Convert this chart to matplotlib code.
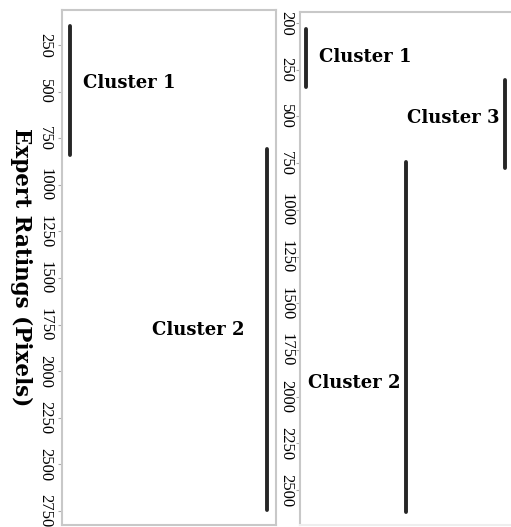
import matplotlib
matplotlib.use('Agg')
import matplotlib.pyplot as plt

#------------------------------------------------------------------------------
# Datos (rangos de cada cluster, en pixeles)
left_clusters = ['Cluster 1', 'Cluster 2']
left_start = [150, 810]
left_end = [840, 2745]
left_ticks = [250, 500, 750, 1000, 1250, 1500, 1750, 2000, 2250, 2500, 2750]
left_labels = ['250', '500', '750', '1000', '1250', '1500', '1750', '2000', '2250', '2500', '2750']

right_clusters = ['Cluster 1', 'Cluster 2', 'Cluster 3']
right_start = [30, 745, 305]
right_end = [340, 2615, 775]
right_ticks = [0, 250, 500, 750, 1000, 1250, 1500, 1750, 2000, 2250, 2500]
right_labels = ['200', '250', '500', '750', '1000', '1250', '1500', '1750', '2000', '2250', '2500']

serif = 'Liberation Serif'
bold_serif = 'DejaVu Serif'
line_color = '#262626'
spine_color = '#c8c8c8'

fig = plt.figure(figsize=(5.11, 5.27), dpi=100)
ax1 = fig.add_axes([62/511, 2/527, 214/511, 515/527])
ax2 = fig.add_axes([300/511, 2/527, 213/511, 513/527])

#------------------------------------------------------------------------------
# Panel izquierdo
for i, name in enumerate(left_clusters):
    ax1.plot([i + 1, i + 1], [left_start[i], left_end[i]], color=line_color, lw=2.8,
             solid_capstyle='round')
ax1.set_xlim(0.96, 2.046)
ax1.set_ylim(2825, 62)
ax1.set_yticks(left_ticks)
ax1.set_yticklabels(left_labels, rotation=-90, va='center', ha='center',
                    family=serif, fontsize=12)
ax1.text(1.066, 454, 'Cluster 1', family=bold_serif, fontweight='bold', fontsize=13,
         ha='left', va='center')
ax1.text(1.416, 1779, 'Cluster 2', family=bold_serif, fontweight='bold', fontsize=13,
         ha='left', va='center')
ax1.set_ylabel('Expert Ratings (Pixels)', family=bold_serif, fontweight='bold', fontsize=15.5,
               rotation=-90, labelpad=20)

#------------------------------------------------------------------------------
# Panel derecho
for i, name in enumerate(right_clusters):
    ax2.plot([i + 1, i + 1], [right_start[i], right_end[i]], color=line_color, lw=2.8,
             solid_capstyle='round')
ax2.set_xlim(0.94, 3.08)
ax2.set_ylim(2687, -59)
ax2.set_yticks(right_ticks)
ax2.set_yticklabels(right_labels, rotation=-90, va='center', ha='center',
                    family=serif, fontsize=12)
ax2.text(1.13, 182, 'Cluster 1', family=bold_serif, fontweight='bold', fontsize=13,
         ha='left', va='center')
ax2.text(2.94, 508, 'Cluster 3', family=bold_serif, fontweight='bold', fontsize=13,
         ha='right', va='center')
ax2.text(1.95, 1927, 'Cluster 2', family=bold_serif, fontweight='bold', fontsize=13,
         ha='right', va='center')

for ax in (ax1, ax2):
    ax.set_xticks([])
    ax.tick_params(axis='y', length=3, color='#aaaaaa', pad=9)
    for s in ax.spines.values():
        s.set_color(spine_color)
        s.set_linewidth(1.5)
ax2.tick_params(axis='y', pad=7)
ax2.spines['right'].set_visible(False)
ax2.spines['bottom'].set_color('#eeeeee')

fig.savefig('out.png', dpi=100)
